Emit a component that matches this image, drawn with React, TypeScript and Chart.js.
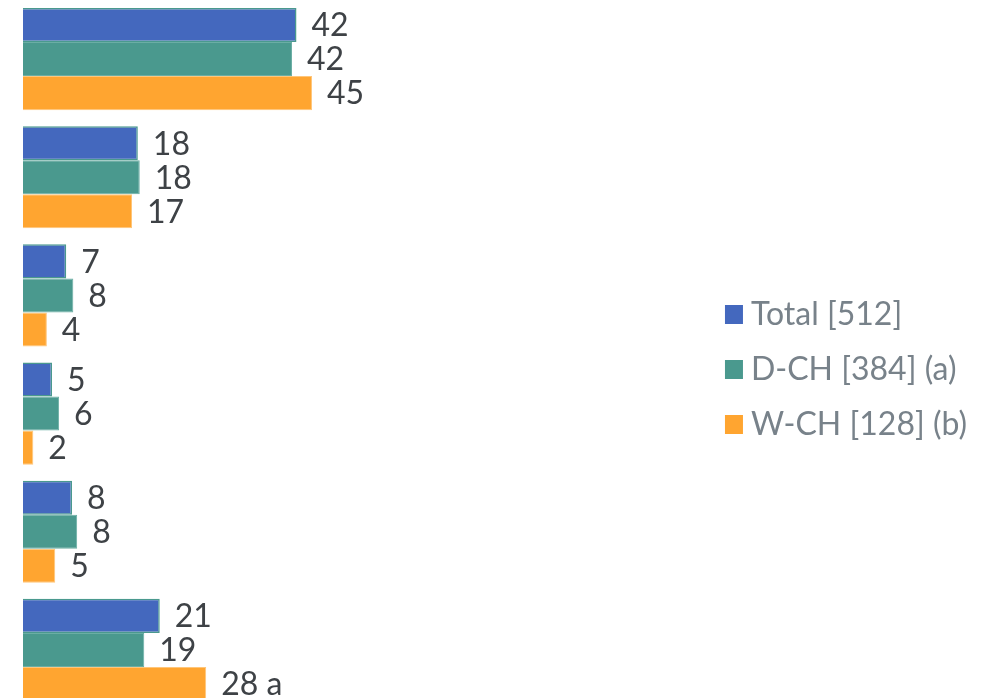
import React, { useEffect, useRef } from "react";
import { Chart, registerables } from "chart.js";

Chart.register(...registerables);

const categories = ["Item 1", "Item 2", "Item 3", "Item 4", "Item 5", "Item 6"];
const seriesNames = ["Total [512]", "D-CH [384] (a)", "W-CH [128] (b)"];
const totalValues = [42.4, 17.8, 6.7, 4.5, 7.6, 21.2];
const dchValues = [41.7, 18.1, 7.8, 5.6, 8.4, 18.8];
const wchValues = [44.8, 16.9, 3.7, 1.6, 5.0, 28.4];
const totalMarks = ["", "", "", "", "", ""];
const dchMarks = ["", "", "", "", "", ""];
const wchMarks = ["", "", "", "", "", " a"];

const BLUE = "#4468BE";
const TEAL = "#4A998E";
const ORANGE = "#FFA530";
const LABEL_COLOR = "#3E4246";
const LEGEND_COLOR = "#78828A";
const FONT = "Lato";

const valueLabels = {
  id: "valueLabels",
  afterDatasetsDraw(chart: any) {
    const ctx = chart.ctx;
    const marks = [totalMarks, dchMarks, wchMarks];
    ctx.save();
    ctx.font = `32px ${FONT}`;
    ctx.fillStyle = LABEL_COLOR;
    ctx.textAlign = "left";
    ctx.textBaseline = "middle";
    chart.data.datasets.forEach((ds: any, di: number) => {
      const meta = chart.getDatasetMeta(di);
      meta.data.forEach((bar: any, i: number) => {
        const v = ds.data[i];
        const text = `${Math.round(v)}${marks[di][i]}`;
        ctx.fillText(text, bar.x + 15, bar.y + 1);
      });
    });
    ctx.restore();
  },
};

export default function App() {
  const canvasRef = useRef<HTMLCanvasElement | null>(null);

  useEffect(() => {
    if (!canvasRef.current) return;
    const chart = new Chart(canvasRef.current, {
      type: "bar",
      data: {
        labels: categories,
        datasets: [
          {
            label: seriesNames[0],
            data: totalValues,
            backgroundColor: BLUE,
            borderColor: TEAL,
            borderWidth: 1.5,
          },
          {
            label: seriesNames[1],
            data: dchValues,
            backgroundColor: TEAL,
            borderColor: "#6AAEA4",
            borderWidth: 1,
          },
          {
            label: seriesNames[2],
            data: wchValues,
            backgroundColor: ORANGE,
            borderColor: "#FFC67A",
            borderWidth: 1,
          },
        ],
      },
      options: {
        indexAxis: "y",
        animation: false,
        responsive: true,
        maintainAspectRatio: false,
        datasets: {
          bar: { barPercentage: 1, categoryPercentage: 0.864 },
        },
        layout: { padding: { left: 23, right: 9, top: 0, bottom: 0 } },
        scales: {
          x: { display: false, min: 0, max: 106.5 },
          y: { display: false },
        },
        plugins: {
          tooltip: { enabled: false },
          legend: {
            position: "right",
            align: "center",
            title: {
              display: true,
              text: "",
              padding: 0,
              font: { size: 30, lineHeight: 1 },
            },
            labels: {
              color: LEGEND_COLOR,
              font: { family: FONT, size: 32 },
              boxWidth: 2,
              boxHeight: 3,
              padding: 23,
              generateLabels(chart: any) {
                const items = Chart.defaults.plugins.legend.labels.generateLabels(chart);
                return items.map((it: any) => ({
                  ...it,
                  strokeStyle: it.fillStyle,
                  lineWidth: 16,
                }));
              },
            },
          },
        },
      },
      plugins: [valueLabels],
    });
    return () => chart.destroy();
  }, []);

  return (
    <div
      style={{
        position: "fixed",
        left: 0,
        top: 0,
        width: 986,
        height: 698,
        overflow: "hidden",
        background: "#fff",
      }}
    >
      <div style={{ position: "relative", width: 986, height: 709 }}>
        <canvas ref={canvasRef} />
      </div>
    </div>
  );
}
